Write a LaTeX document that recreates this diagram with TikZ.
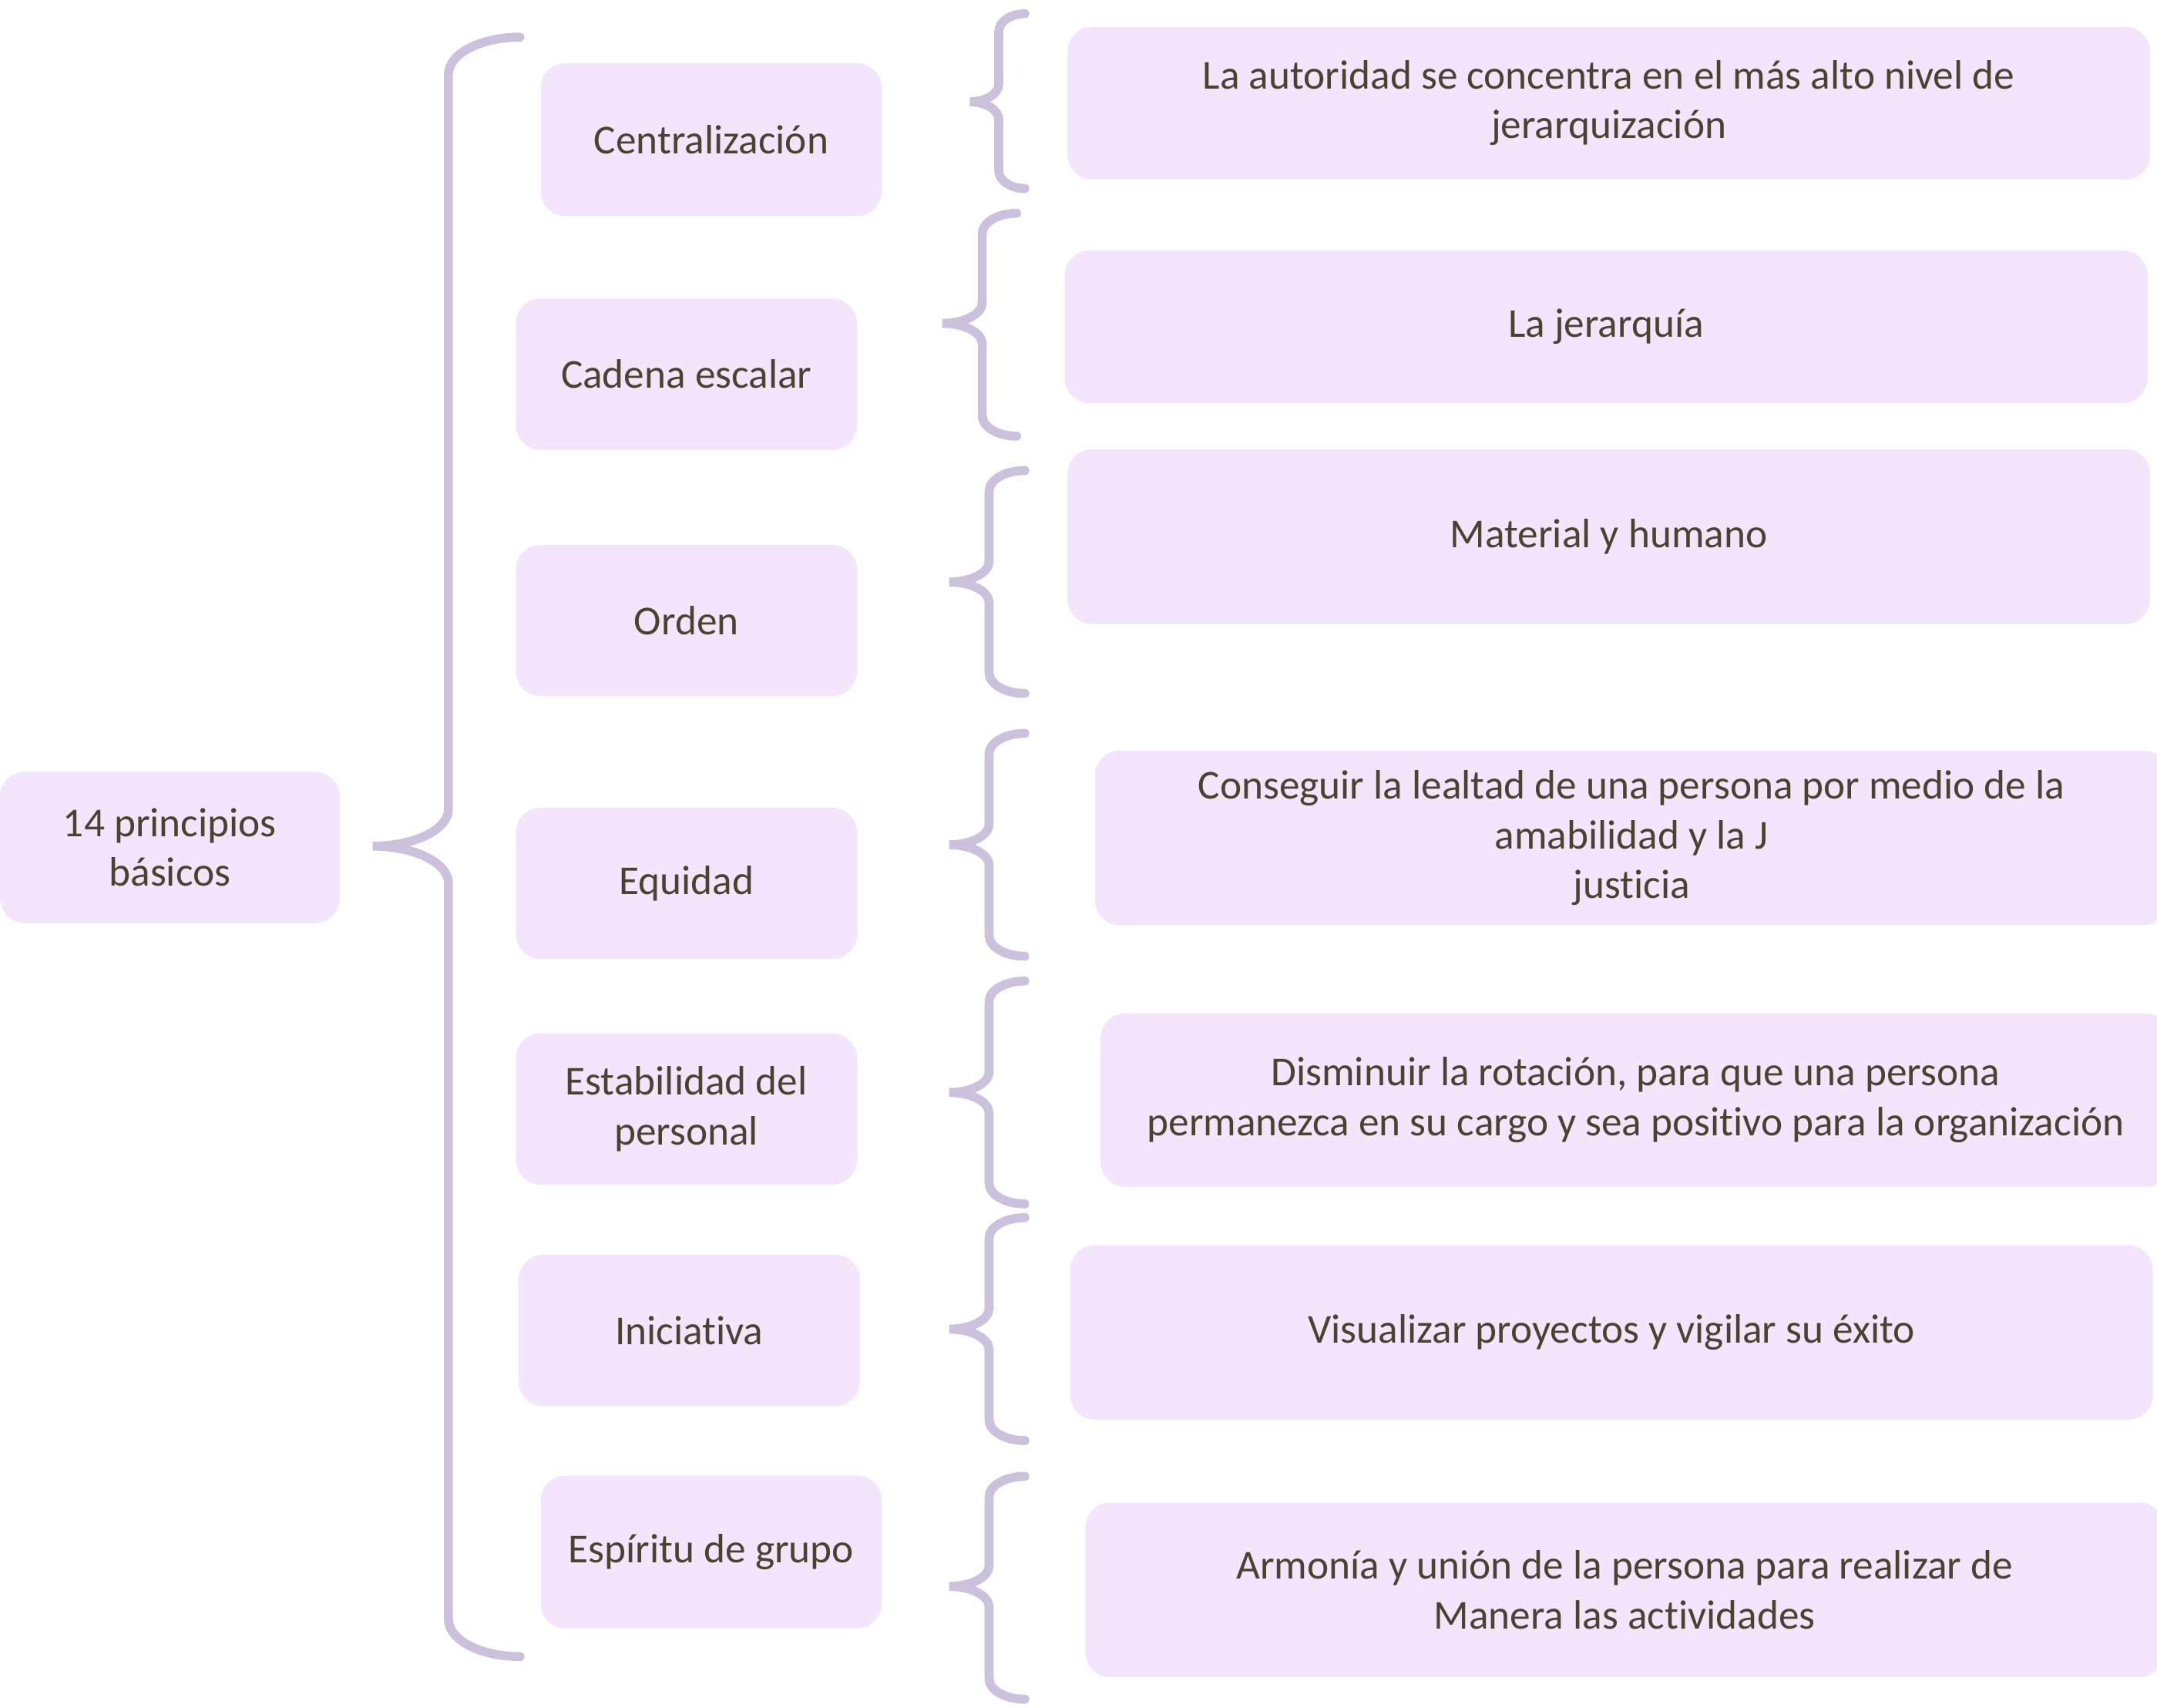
\documentclass[tikz,border=0pt]{standalone}
\usepackage{fontspec}
\setmainfont{Carlito}[Ligatures=CommonOff]
\usepackage{xcolor}
\usepackage{tikz}
\definecolor{boxfill}{HTML}{F3E5FC}
\definecolor{brcline}{HTML}{CBC1DC}
\definecolor{txtcol}{HTML}{4A4330}

\begin{document}
\begin{tikzpicture}[x=0.02cm,y=-0.02cm,
  box/.style={fill=boxfill,rounded corners=0.36cm,text=txtcol,align=center,inner sep=0pt,font=\fontsize{17}{20.5}\selectfont},
  sz/.style 2 args={minimum width=#1*0.02cm,minimum height=#2*0.02cm},
  brc/.style={draw=brcline,line width=0.13cm,line cap=round}]
\newcommand{\curly}[7]{\draw[brc] (#3,#4) .. controls (#3-0.552*#3+0.552*#2,#4) and (#2,#4+0.448*#7) .. (#2,#4+#7) -- (#2,#5-#7) .. controls (#2,#5-0.448*#7) and (#2-0.448*#2+0.448*#1,#5) .. (#1,#5) .. controls (#2-0.448*#2+0.448*#1,#5) and (#2,#5+0.448*#7) .. (#2,#5+#7) -- (#2,#6-#7) .. controls (#2,#6-0.448*#7) and (#3-0.552*#3+0.552*#2,#6) .. (#3,#6);}
\useasboundingbox (0,0) rectangle (1568,1241);
% root
\node[box,sz={247}{110}] (root) at (123.5,616) {14 principios\\básicos};
% principles
\node[box,sz={248}{111}] (cen) at (517,101.5) {Centralización};
\node[box,sz={248}{110}] (cad) at (499,272) {Cadena escalar};
\node[box,sz={248}{110}] (ord) at (499,451) {Orden};
\node[box,sz={248}{110}] (equ) at (499,642) {Equidad};
\node[box,sz={248}{110}] (est) at (499,806) {Estabilidad del\\personal};
\node[box,sz={248}{110}] (ini) at (501,967) {Iniciativa};
\node[box,sz={248}{111}] (esp) at (517,1128) {Espíritu de grupo};
% descriptions
\node[box,sz={787}{111}] (dcen) at (1169.5,75) {La autoridad se concentra en el más alto nivel de\\jerarquización};
\node[box,sz={787}{111}] (dcad) at (1167.5,237.5) {La jerarquía};
\node[box,sz={787}{127}] (dord) at (1169.5,390) {Material y humano};
\node[box,sz={780}{127}] (dequ) at (1186,609) {Conseguir la lealtad de una persona por medio de la\\amabilidad y la J\\justicia};
\node[box,sz={778}{126}] (dest) at (1189,799.5) {Disminuir la rotación, para que una persona\\permanezca en su cargo y sea positivo para la organización};
\node[box,sz={787}{127}] (dini) at (1171.5,968.5) {Visualizar proyectos y vigilar su éxito};
\node[box,sz={784}{127}] (desp) at (1181,1155.5) {Armonía y unión de la persona para realizar de\\Manera las actividades};
% braces
\curly{271}{326}{378}{27}{615}{1204}{27}
\curly{705}{726}{745}{10}{74}{137}{13}
\curly{685}{714}{739}{155}{235}{317}{15}
\curly{690}{719}{745}{342}{423}{504}{15}
\curly{690}{719}{745}{533}{614}{695}{15}
\curly{690}{719}{745}{713}{794}{875}{15}
\curly{690}{719}{745}{885}{966}{1047}{15}
\curly{690}{719}{745}{1073}{1153}{1235}{15}
\end{tikzpicture}
\end{document}
